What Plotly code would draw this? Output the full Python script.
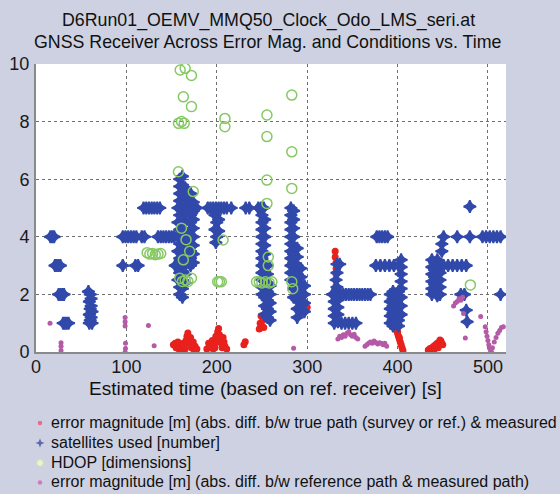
import plotly.graph_objects as go

# ---------------- data ----------------
# series 1: error magnitude vs true path (red)
err_true_t = [61, 61, 61, 62, 60,
              152, 154, 155, 156, 157, 158, 160, 161, 162, 163, 164, 165, 166, 167, 168, 169, 170, 171, 172, 173, 174, 175, 176, 178,
              189, 191, 193, 195, 196, 197, 198, 199, 200, 201, 202, 203, 204, 205, 206, 207, 208, 209, 211,
              230, 231.5,
              247, 248, 249, 250, 251, 252,
              286, 288, 289, 290, 291, 292, 294, 296, 298, 300,
              331, 331, 332, 332, 332, 332, 332, 332, 333,
              399, 400, 401, 402, 403, 404, 405, 406, 400, 402,
              434, 436, 437, 438, 440, 441, 442, 444, 445, 446, 447, 448, 449, 450]
err_true_v = [1.25, 1.4, 1.55, 1.3, 1.5,
              0.25, 0.3, 0.15, 0.2, 0.35, 0.1, 0.25, 0.15, 0.05, 0.3, 0.2, 0.1, 0.4, 0.55, 0.66, 0.45, 0.3, 0.5, 0.15, 0.25, 0.35, 0.05, 0.2, 0.1,
              0.1, 0.3, 0.2, 0.4, 0.1, 0.25, 0.15, 0.55, 0.35, 0.7, 0.82, 0.6, 0.45, 0.3, 0.15, 0.5, 0.35, 0.2, 0.1,
              0.25, 0.36,
              0.8, 1.0, 1.25, 0.9, 1.1, 0.85,
              1.9, 2.1, 2.3, 1.95, 1.8, 2.0, 1.75, 1.6, 1.7, 1.55,
              3.5, 3.3, 3.1, 2.9, 2.7, 2.5, 2.3, 2.1, 1.9,
              0.76, 0.65, 0.55, 0.45, 0.35, 0.25, 0.15, 0.05, 0.7, 0.5,
              0.07, 0.12, 0.05, 0.15, 0.2, 0.1, 0.25, 0.3, 0.15, 0.35, 0.42, 0.38, 0.3, 0.25]

# series 2: satellites used (blue)
sat_t = [16, 18, 20,
         21, 23, 25, 27,
         25, 27, 29, 31,
         30, 32, 34, 36,
         58, 60, 61, 59, 61, 60, 62, 59, 61, 60, 62, 59,
         96, 99, 102, 105, 108, 111, 117, 120, 135, 138, 141, 144, 147, 150, 153,
         96, 110, 113,
         119, 122, 125, 128, 131, 134, 137,
         154, 156,
         159, 159, 159, 159, 159, 159, 159, 159, 159, 159, 159, 159, 159, 159, 159, 159, 159,
         162, 162, 162, 162, 162, 162, 162, 162, 162, 162, 162, 162, 162, 162, 162,
         165, 165, 165, 165, 165, 165, 165, 165, 165, 165, 165, 165,
         157, 157, 157, 157, 157, 157,
         171, 171, 171, 171, 171, 171, 171, 171, 171, 171, 171,
         174, 174, 174, 174, 174, 174, 174, 174,
         168, 168, 168, 178,
         190, 193, 196, 199, 202, 205, 208, 211,
         198, 200, 198, 200, 199, 202, 202,
         216, 232, 236,
         246, 249, 252,
         250, 250, 250, 250, 250, 250, 250, 250, 250, 250, 250, 250,
         253, 253, 253, 253, 253, 253, 253, 253, 253, 253, 253, 253,
         256, 256, 256, 256, 256, 256, 256,
         259, 259, 259, 259, 259,
         282, 282, 282, 282, 282, 282, 282, 282, 282, 282, 282,
         285, 285, 285, 285, 285, 285, 285, 285, 285, 285, 285,
         289, 289, 289, 289, 289, 289, 289, 289, 289,
         293, 293, 293, 293, 293, 293,
         297, 297, 297, 297,
         333, 336, 333, 332, 333,
         328, 331, 334, 337, 340, 343, 346, 349, 352, 355, 358, 361, 364, 367, 370,
         330, 330, 330, 330, 334, 334, 334, 334,
         338, 342, 346, 350, 354,
         377, 380, 383, 386, 389,
         376, 381, 386, 391, 396, 401,
         404, 404, 404, 404, 404,
         392, 392, 392, 392, 392,
         395, 395, 395, 395, 395, 395,
         398, 398, 398, 398, 398,
         401, 401, 401, 401, 401, 401,
         404, 404, 404,
         438, 438, 438, 438, 438, 438,
         441, 441, 441, 441, 441,
         444, 444, 444, 444, 444, 444,
         447, 447, 447, 447, 447,
         451, 456, 461, 466, 471, 476,
         449, 449,
         451, 466, 480, 494, 498, 502, 506, 510, 514,
         480,
         470, 474, 514,
         476, 477]
sat_v = [4, 4, 4,
         3, 3, 3, 3,
         2, 2, 2, 2,
         1, 1, 1, 1,
         2.1, 2.0, 1.85, 1.75, 1.6, 1.5, 1.4, 1.3, 1.2, 1.1, 1.0, 1.0,
         4, 4, 4, 4, 4, 4, 4, 4, 4, 4, 4, 4, 4, 4, 4,
         3, 3, 3,
         5, 5, 5, 5, 5, 5, 5,
         3, 3,
         2.0, 2.25, 2.5, 2.75, 3.0, 3.25, 3.5, 3.75, 4.0, 4.25, 4.5, 4.75, 5.0, 5.25, 5.5, 5.75, 6.0,
         1.9, 2.2, 2.5, 2.8, 3.1, 3.4, 3.7, 4.0, 4.3, 4.6, 4.9, 5.2, 5.5, 5.8, 6.1,
         2.4, 2.7, 3.0, 3.3, 3.6, 3.9, 4.2, 4.5, 4.8, 5.1, 5.4, 5.7,
         2.5, 3.0, 3.5, 4.0, 4.5, 5.0,
         3.0, 3.25, 3.5, 3.75, 4.0, 4.25, 4.5, 4.75, 5.0, 5.25, 5.5,
         3.1, 3.4, 3.7, 4.0, 4.3, 4.6, 4.9, 5.2,
         4, 5, 3.5, 5,
         5, 5, 5, 5, 5, 5, 5, 5,
         4.75, 4.5, 4.25, 4.0, 3.8, 4.6, 4.2,
         5, 5, 5,
         5, 5, 5,
         4.75, 4.5, 4.25, 4.0, 3.75, 3.5, 3.25, 3.0, 2.75, 2.5, 2.25, 2.0,
         4.6, 4.3, 4.0, 3.7, 3.4, 3.1, 2.8, 2.5, 2.2, 1.9, 1.6, 1.3,
         3.0, 2.7, 2.4, 2.1, 1.8, 1.5, 1.2,
         2.3, 2.0, 1.7, 1.4, 1.1,
         5.0, 4.75, 4.5, 4.25, 4.0, 3.75, 3.5, 3.25, 3.0, 2.75, 2.5,
         4.9, 4.6, 4.3, 4.0, 3.7, 3.4, 3.1, 2.8, 2.5, 2.2, 1.9,
         3.6, 3.3, 3.0, 2.7, 2.4, 2.1, 1.8, 1.5, 1.2,
         2.9, 2.6, 2.3, 2.0, 1.7, 1.4,
         2.3, 2.0, 1.7, 1.4,
         3.05, 3.05, 2.75, 2.5, 2.25,
         2, 2, 2, 2, 2, 2, 2, 2, 2, 2, 2, 2, 2, 2, 2,
         1.75, 1.5, 1.25, 1.0, 1.8, 1.55, 1.3, 1.05,
         1, 1, 1, 1, 1,
         4, 4, 4, 4, 4,
         3, 3, 3, 3, 3, 3,
         3.2, 2.95, 2.7, 2.45, 2.2,
         2.0, 1.75, 1.5, 1.25, 1.0,
         2.1, 1.85, 1.6, 1.35, 1.1, 0.9,
         2.0, 1.75, 1.5, 1.25, 1.0,
         2.1, 1.85, 1.6, 1.35, 1.1, 0.9,
         1.9, 1.6, 1.3,
         3.2, 2.95, 2.7, 2.45, 2.2, 2.0,
         3.1, 2.85, 2.6, 2.35, 2.1,
         3.2, 2.95, 2.7, 2.45, 2.2, 1.95,
         3.0, 2.75, 2.5, 2.25, 2.0,
         3, 3, 3, 3, 3, 3,
         3.5, 3.75,
         4, 4, 4, 4, 4, 4, 4, 4, 4,
         5.05,
         2.0, 2.0, 2.0,
         1.45, 1.05]

# series 3: HDOP (green open circles)
hdop_t = [159.5, 165, 172, 163, 172, 157.6, 161, 164, 157.6, 174,
          209, 209, 207,
          123, 126, 129, 132, 135, 138,
          159, 162, 165, 168, 172,
          161, 166, 170, 163,
          201, 203, 205,
          244, 247, 250, 254, 258, 261,
          257, 257,
          255.5, 255.5, 255.5, 255.5,
          283, 283, 283, 283, 284,
          480.6]
hdop_v = [9.79, 9.85, 9.6, 8.86, 8.52, 7.94, 8.0, 7.94, 6.26, 5.57,
          8.11, 7.82, 3.89,
          3.45, 3.4, 3.42, 3.38, 3.4, 3.42,
          2.56, 2.45, 2.5, 2.45, 2.56,
          4.3, 3.9, 3.5, 3.2,
          2.44, 2.44, 2.44,
          2.44, 2.44, 2.4, 2.44, 2.4, 2.44,
          3.3, 3.0,
          8.23, 7.48, 5.97, 5.16,
          8.92, 6.95, 5.68, 2.44, 2.2,
          2.33]

# series 4: error magnitude vs reference path (magenta)
err_ref_t = [15.5, 27.7, 27.7, 27.7,
             98.6, 98.6, 98.6, 99, 99, 98.6,
             124.4, 130.7,
             285,
             334, 336, 338, 340, 342, 344, 346, 348, 350, 352, 354, 356,
             364, 366, 368, 370, 372, 374, 376, 378, 380, 382, 384, 386, 388,
             462, 464, 466, 468, 470, 472,
             473, 475, 492,
             497, 498, 499, 500, 501, 502, 503, 504, 505, 507, 509, 511, 513, 515, 517]
err_ref_v = [1.0, 0.32, 0.2, 0.05,
             1.2, 1.05, 0.9, 0.3, 0.12, 0.0,
             0.92, 0.22,
             0.13,
             0.45, 0.55, 0.5, 0.6, 0.55, 0.65, 0.7, 0.6, 0.55, 0.62, 0.5, 0.45,
             0.2, 0.25, 0.3, 0.35, 0.3, 0.38, 0.33, 0.28, 0.32, 0.3, 0.25, 0.3, 0.2,
             1.6, 1.7, 1.75, 1.85, 1.8, 1.9,
             1.34, 0.49, 1.23,
             0.88, 0.7, 0.55, 0.4, 0.25, 0.12, 0.03, 0.0, 0.15, 0.35, 0.5, 0.65, 0.75, 0.85, 0.88]

x_ticks = [0, 100, 200, 300, 400, 500]
y_ticks = [0, 2, 4, 6, 8, 10]

title_lines = ["D6Run01_OEMV_MMQ50_Clock_Odo_LMS_seri.at",
               "GNSS Receiver Across Error Mag. and Conditions vs. Time"]
x_title = "Estimated time (based on ref. receiver) [s]"
legend_names = ["error magnitude [m] (abs. diff. b/w true path (survey or ref.) & measured",
                "satellites used [number]",
                "HDOP [dimensions]",
                "error magnitude [m] (abs. diff. b/w reference path & measured path)"]

# ---------------- styling ----------------
W, H = 560, 494
L, R, T, B = 36, 506, 64, 352
BG = "#cdd1e2"
FONT = "Liberation Sans, Arial, sans-serif"
RED = "#e8211d"
BLUE = "#3149aa"
GREEN = "#86c964"
PINK = "#b45aa6"


def px(x):
    return (x - L) / (R - L)


def py(y):
    return (B - y) / (B - T)


fig = go.Figure()
fig.add_trace(go.Scatter(x=err_true_t, y=err_true_v, mode="markers", name=legend_names[0],
                         marker=dict(color=RED, size=7, line=dict(width=0)), showlegend=False))
fig.add_trace(go.Scatter(x=sat_t, y=sat_v, mode="markers", name=legend_names[1],
                         marker=dict(color=BLUE, size=9, symbol="star-diamond",
                                     line=dict(color=BLUE, width=1.8)),
                         showlegend=False))
fig.add_trace(go.Scatter(x=hdop_t, y=hdop_v, mode="markers", name=legend_names[2],
                         marker=dict(color=GREEN, size=10, symbol="circle-open", line=dict(width=1.5)),
                         showlegend=False))
fig.add_trace(go.Scatter(x=err_ref_t, y=err_ref_v, mode="markers", name=legend_names[3],
                         marker=dict(color=PINK, size=5, line=dict(width=0)), showlegend=False))

axis_common = dict(showgrid=True, gridcolor="#6e6e6e", griddash="3px,3px", gridwidth=1,
                   showline=True, linecolor="#8a8a8a", linewidth=2, zeroline=False,
                   ticks="", tickfont=dict(family=FONT, size=18, color="#1a1a1a"))
fig.update_xaxes(range=[0, 520], tickvals=x_ticks, ticklabelstandoff=-3, **axis_common)
fig.update_yaxes(range=[0, 10], tickvals=y_ticks, ticklabelstandoff=1, **axis_common)

annotations = [
    dict(text=title_lines[0], x=0.494, y=py(21), xref="paper", yref="paper", showarrow=False,
         xanchor="center", yanchor="middle", font=dict(family=FONT, size=17.8, color="#111")),
    dict(text=title_lines[1], x=0.494, y=py(42), xref="paper", yref="paper", showarrow=False,
         xanchor="center", yanchor="middle", font=dict(family=FONT, size=17.8, color="#111")),
    dict(text=x_title, x=0.488, y=py(388), xref="paper", yref="paper", showarrow=False,
         xanchor="center", yanchor="middle", font=dict(family=FONT, size=19, color="#111")),
]
legend_rows = [423, 443, 463, 482.5]
for name, yy in zip(legend_names, legend_rows):
    annotations.append(dict(text=name, x=px(49), y=py(yy - 1), xref="paper", yref="paper", showarrow=False,
                            xanchor="left", yanchor="middle", font=dict(family=FONT, size=16, color="#111")))

shapes = []
mx = 40


def circ(cx, cy, r, fill, line):
    return dict(type="circle", xref="paper", yref="paper",
                x0=px(cx - r), x1=px(cx + r), y0=py(cy + r), y1=py(cy - r),
                fillcolor=fill, line=dict(color=line, width=1 if line else 0))


shapes.append(circ(mx, legend_rows[0], 2.2, "#e86a8a", None))
# small star for satellites legend marker
s = 4.5
cx, cy = mx, legend_rows[1]
pts = [(cx, cy - s), (cx + 1.3, cy - 1.3), (cx + s, cy), (cx + 1.3, cy + 1.3),
       (cx, cy + s), (cx - 1.3, cy + 1.3), (cx - s, cy), (cx - 1.3, cy - 1.3)]
path = "M " + " L ".join(f"{px(a)},{py(b)}" for a, b in pts) + " Z"
shapes.append(dict(type="path", xref="paper", yref="paper", path=path, fillcolor="#5a6ab0",
                   line=dict(width=0)))
shapes.append(circ(mx, legend_rows[2], 3.2, "#eef3d0", "#d8e6a8"))
shapes.append(circ(mx, legend_rows[3], 2.2, "#d07ab8", None))

fig.update_layout(
    width=W, height=H,
    margin=dict(l=L, r=W - R, t=T, b=H - B, autoexpand=False),
    paper_bgcolor=BG, plot_bgcolor="white",
    showlegend=False,
    annotations=annotations, shapes=shapes,
)

fig.write_html("out.html", config={"displayModeBar": False},
               post_script="document.body.style.margin='0';document.body.style.background='" + BG + "';")
